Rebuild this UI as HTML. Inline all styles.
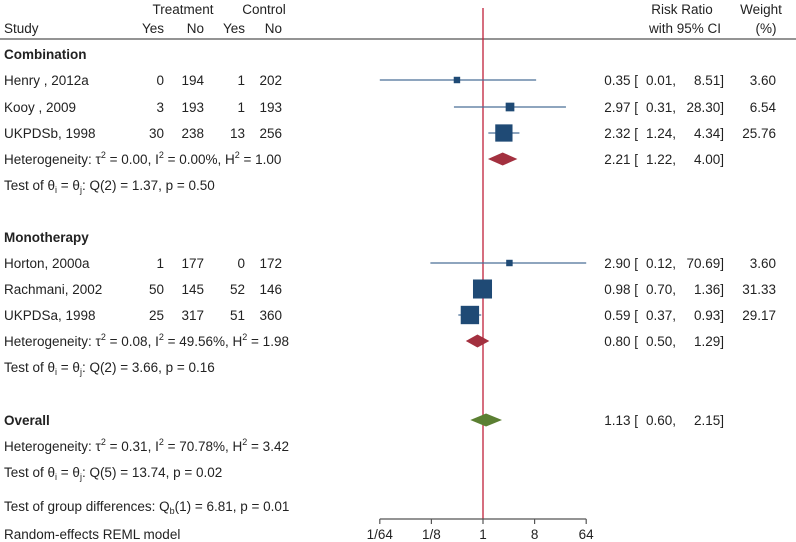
<!DOCTYPE html>
<html><head><meta charset="utf-8"><style>
body{margin:0;background:#fff}
svg{display:block;font-family:"Liberation Sans",Arial,sans-serif;font-size:13.5px;fill:#222}
</style></head><body>
<svg id="c" width="796" height="542">
<g>
<text x="183" y="14" text-anchor="middle">Treatment</text>
<text x="264" y="14" text-anchor="middle">Control</text>
<text x="4" y="33">Study</text>
<text x="164" y="33" text-anchor="end">Yes</text>
<text x="204" y="33" text-anchor="end">No</text>
<text x="245" y="33" text-anchor="end">Yes</text>
<text x="282" y="33" text-anchor="end">No</text>
<text x="682" y="14" text-anchor="middle">Risk Ratio</text>
<text x="685" y="33" text-anchor="middle">with 95% CI</text>
<text x="761" y="14" text-anchor="middle">Weight</text>
<text x="766" y="33" text-anchor="middle">(%)</text>
<line x1="0" y1="39" x2="796" y2="39" stroke="#555" stroke-width="1.2"/>
</g>
<line id="ref" x1="483" y1="8" x2="483" y2="519" stroke="#c0203a" stroke-width="1.3"/>
<g id="rows"></g>
<g id="axis"></g>
<text x="4" y="539">Random-effects REML model</text>
</svg>
<script>
const studies=["Henry , 2012a","Kooy , 2009","UKPDSb, 1998","Horton, 2000a","Rachmani, 2002","UKPDSa, 1998"];
const tYes=[0,3,30,1,50,25];
const tNo=[194,193,238,177,145,317];
const cYes=[1,1,13,0,52,51];
const cNo=[202,193,256,172,146,360];
const rr=[0.35,2.97,2.32,2.90,0.98,0.59];
const lo=[0.01,0.31,1.24,0.12,0.70,0.37];
const hi=[8.51,28.30,4.34,70.69,1.36,0.93];
const wt=[3.60,6.54,25.76,3.60,31.33,29.17];
const studyY=[80,107,133,263,289,315];
const pooledRR=[2.21,0.80,1.13];
const pooledLo=[1.22,0.50,0.60];
const pooledHi=[4.00,1.29,2.15];
const pooledY=[159,341,420];
const pooledColor=["#a3303f","#a3303f","#5b7f32"];
const ticks=[1/64,1/8,1,8,64];
const tickLabels=["1/64","1/8","1","8","64"];
const NS="http://www.w3.org/2000/svg";
const X=v=>483+17.2*Math.log2(v);
const xmin=X(1/64),xmax=X(64);
const clip=v=>Math.max(xmin,Math.min(xmax,v));
const rows=document.getElementById('rows');
function el(t,a,txt,p){const e=document.createElementNS(NS,t);for(const k in a)e.setAttribute(k,a[k]);if(txt!=null)e.innerHTML=txt;(p||rows).appendChild(e);return e;}
function f2(v){return v.toFixed(2);}
function ci(y,r,l,h,w){
 el('text',{x:638,y:y,'text-anchor':'end'},f2(r)+' [');
 el('text',{x:676,y:y,'text-anchor':'end'},f2(l)+',');
 el('text',{x:724,y:y,'text-anchor':'end'},f2(h)+']');
 if(w!=null)el('text',{x:776,y:y,'text-anchor':'end'},f2(w));
}
for(let i=0;i<studies.length;i++){
 const y=studyY[i];
 const g=el('g',{});
 
 
 el('text',{x:4,y:y+5},studies[i],g);
 el('text',{x:164,y:y+5,'text-anchor':'end'},tYes[i],g);
 el('text',{x:204,y:y+5,'text-anchor':'end'},tNo[i],g);
 el('text',{x:245,y:y+5,'text-anchor':'end'},cYes[i],g);
 el('text',{x:282,y:y+5,'text-anchor':'end'},cNo[i],g);
 const ln=el('line',{x1:clip(X(lo[i])),x2:clip(X(hi[i])),y1:y,y2:y,stroke:'#4a6f96','stroke-width':1.2},null,g);
 
 const s=3.4*Math.sqrt(wt[i]);
 const sq=el('rect',{x:X(rr[i])-s/2,y:y-s/2,width:s,height:s,fill:'#1f4a75'},null,g);
 
 ci(y+5,rr[i],lo[i],hi[i],wt[i]);
}
for(let i=0;i<3;i++){
 const y=pooledY[i];
 const d=el('polygon',{points:`${X(pooledLo[i])},${y} ${X(pooledRR[i])},${y-6.5} ${X(pooledHi[i])},${y} ${X(pooledRR[i])},${y+6.5}`,fill:pooledColor[i]});
 
 
 ci(y+5,pooledRR[i],pooledLo[i],pooledHi[i],null);
}
const lab=[
 [54,'<tspan font-weight="bold">Combination</tspan>'],
 [159,'Heterogeneity: τ<tspan dy="-6" font-size="9">2</tspan><tspan dy="6"> = 0.00, I</tspan><tspan dy="-6" font-size="9">2</tspan><tspan dy="6"> = 0.00%, H</tspan><tspan dy="-6" font-size="9">2</tspan><tspan dy="6"> = 1.00</tspan>'],
 [185,'Test of θ<tspan dy="3" font-size="9">i</tspan><tspan dy="-3"> = θ</tspan><tspan dy="3" font-size="9">j</tspan><tspan dy="-3">: Q(2) = 1.37, p = 0.50</tspan>'],
 [237,'<tspan font-weight="bold">Monotherapy</tspan>'],
 [341,'Heterogeneity: τ<tspan dy="-6" font-size="9">2</tspan><tspan dy="6"> = 0.08, I</tspan><tspan dy="-6" font-size="9">2</tspan><tspan dy="6"> = 49.56%, H</tspan><tspan dy="-6" font-size="9">2</tspan><tspan dy="6"> = 1.98</tspan>'],
 [367,'Test of θ<tspan dy="3" font-size="9">i</tspan><tspan dy="-3"> = θ</tspan><tspan dy="3" font-size="9">j</tspan><tspan dy="-3">: Q(2) = 3.66, p = 0.16</tspan>'],
 [420,'<tspan font-weight="bold">Overall</tspan>'],
 [446,'Heterogeneity: τ<tspan dy="-6" font-size="9">2</tspan><tspan dy="6"> = 0.31, I</tspan><tspan dy="-6" font-size="9">2</tspan><tspan dy="6"> = 70.78%, H</tspan><tspan dy="-6" font-size="9">2</tspan><tspan dy="6"> = 3.42</tspan>'],
 [472,'Test of θ<tspan dy="3" font-size="9">i</tspan><tspan dy="-3"> = θ</tspan><tspan dy="3" font-size="9">j</tspan><tspan dy="-3">: Q(5) = 13.74, p = 0.02</tspan>'],
 [506,'Test of group differences: Q<tspan dy="3" font-size="9">b</tspan><tspan dy="-3">(1) = 6.81, p = 0.01</tspan>']
];
for(const [y,h] of lab){const t=el('text',{x:4,y:y+5},h);}
const ax=document.getElementById('axis');
el('line',{x1:xmin,x2:xmax,y1:519,y2:519,stroke:'#555','stroke-width':1.2},null,ax);
ticks.forEach((v,i)=>{
 el('line',{x1:X(v),x2:X(v),y1:519,y2:524,stroke:'#555','stroke-width':1.2},null,ax);
 const t=el('text',{x:X(v),y:539,'text-anchor':'middle'},tickLabels[i],ax);
 
 
});
</script>
</body></html>
